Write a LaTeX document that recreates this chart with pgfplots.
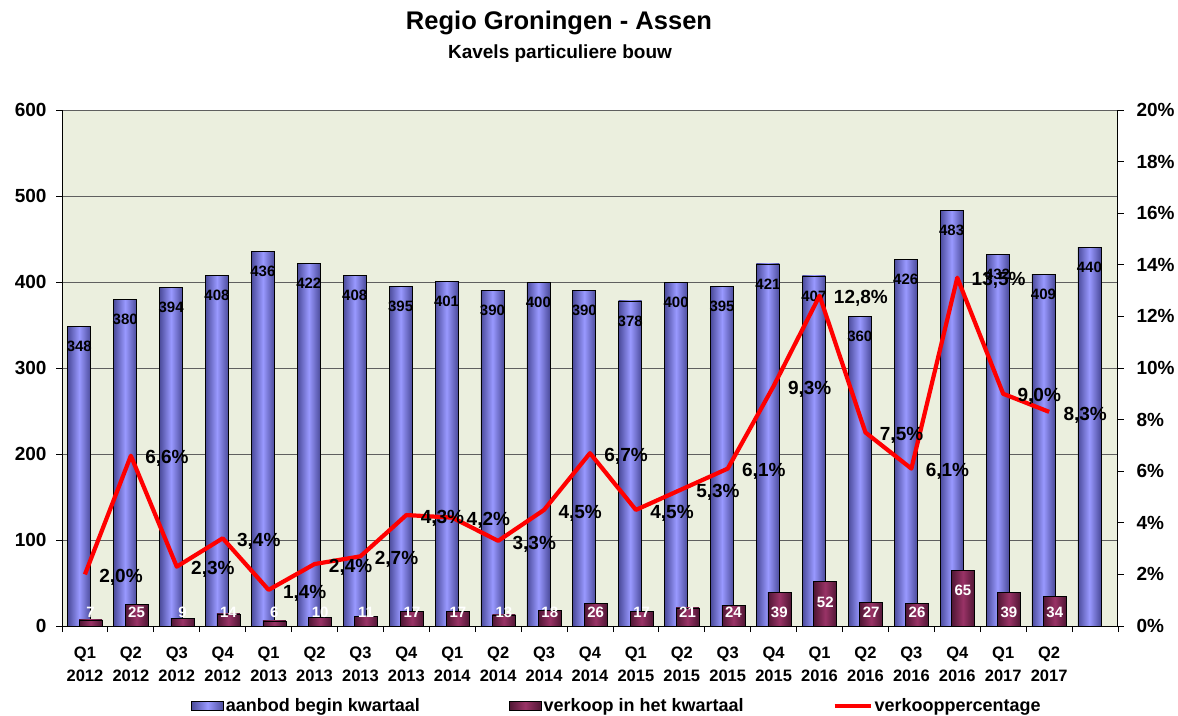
\documentclass[border=0pt]{standalone}
\usepackage{fontspec}
\setmainfont{Liberation Sans}
\usepackage{pgfplots}
\pgfplotsset{compat=1.18}
\usepackage{pgfplotstable}

\definecolor{bg}{RGB}{235,239,222}
\definecolor{aanbod}{RGB}{153,153,255}
\definecolor{aanboddark}{RGB}{75,75,155}
\definecolor{verkoop}{RGB}{153,51,102}
\definecolor{verkoopdark}{RGB}{80,22,52}
\definecolor{gridc}{RGB}{95,95,95}

\pgfplotsset{
  barlegend/.style={legend image code/.code={\draw[##1] (0pt,-4.5pt) rectangle (32pt,4.5pt);}},
  linelegend/.style={legend image code/.code={\draw[##1] (0pt,0pt) -- (36pt,0pt);}},
  aanbodbar/.style={ybar, bar width=23pt, bar shift=-5.7pt, draw=black, line width=0.6pt,
    left color=aanboddark, right color=aanboddark, middle color=aanbod},
  verkoopbar/.style={ybar, bar width=23pt, bar shift=5.7pt, draw=black, line width=0.6pt,
    left color=verkoopdark, right color=verkoopdark, middle color=verkoop},
}

\pgfplotstableread{
x aanbod
0 348
1 380
2 394
3 408
4 436
5 422
6 408
7 395
8 401
9 390
10 400
11 390
12 378
13 400
14 395
15 421
16 407
17 360
18 426
19 483
20 432
21 409
22 440
}\aanbodtab

\pgfplotstableread{
x verkoop laby
0 7 15.5
1 25 15.5
2 9 15.5
3 14 15.5
4 6 15.5
5 10 15.5
6 11 15.5
7 17 15.5
8 17 15.5
9 13 15.5
10 18 15.5
11 26 15.5
12 17 15.5
13 21 15.5
14 24 15.5
15 39 15.5
16 52 28
17 27 15.5
18 26 15.5
19 65 42
20 39 15.5
21 34 15.5
}\verkooptab

\pgfplotstableread{
x pct
0 2.0
1 6.6
2 2.3
3 3.4
4 1.4
5 2.4
6 2.7
7 4.3
8 4.2
9 3.3
10 4.5
11 6.7
12 4.5
13 5.3
14 6.1
15 9.3
16 12.8
17 7.5
18 6.1
19 13.5
20 9.0
21 8.3
}\pcttab

\begin{document}
\begin{tikzpicture}
\useasboundingbox (0pt,0pt) rectangle (1178pt,715pt);
\node[font=\fontsize{25.5}{28}\selectfont\bfseries] at (559pt,692pt) {Regio Groningen - Assen};
\node[font=\fontsize{19}{22}\selectfont\bfseries] at (560pt,661pt) {Kavels particuliere bouw};

\begin{axis}[
  at={(62pt,89pt)}, anchor=south west,
  scale only axis, width=1056pt, height=516pt,
  xmin=-0.5, xmax=22.5, ymin=0, ymax=600,
  axis background/.style={fill=bg},
  ymajorgrids, grid style={gridc, line width=0.9pt},
  ytick={0,100,...,600},
  xtick={-0.5,0.5,...,22.5}, xticklabels={},
  extra x ticks={0,...,21},
  extra x tick labels={Q1\\2012,Q2\\2012,Q3\\2012,Q4\\2012,Q1\\2013,Q2\\2013,Q3\\2013,Q4\\2013,Q1\\2014,Q2\\2014,Q3\\2014,Q4\\2014,Q1\\2015,Q2\\2015,Q3\\2015,Q4\\2015,Q1\\2016,Q2\\2016,Q3\\2016,Q4\\2016,Q1\\2017,Q2\\2017},
  extra x tick style={major tick length=0pt, xticklabel style={align=center, font=\fontsize{16.5}{23.5}\selectfont\bfseries, yshift=-17pt}},
  tick align=outside, major tick length=6pt,
  tick style={black, line width=0.9pt},
  axis y line*=left, axis x line*=bottom,
  axis line style={black, line width=1pt},
  /pgf/number format/assume math mode=true,
  yticklabel style={font=\fontsize{19}{22}\selectfont\bfseries, xshift=-6pt},
  legend columns=3,
  legend style={at={(0.5256,-0.155)}, anchor=center, draw=none, fill=none,
    font=\fontsize{18}{21}\selectfont\bfseries,
    /tikz/every even column/.append style={column sep=87pt},
    nodes={inner sep=2pt}},
]
\pgfplotsinvokeforeach{0,...,22}{
  \addplot[aanbodbar, forget plot]
    table[x=x, y=aanbod, restrict expr to domain={\thisrow{x}}{#1:#1}]{\aanbodtab};
}
\pgfplotsinvokeforeach{0,...,21}{
  \addplot[verkoopbar, forget plot]
    table[x=x, y=verkoop, restrict expr to domain={\thisrow{x}}{#1:#1}]{\verkooptab};
}
\addplot[draw=none, forget plot, nodes near coords, point meta=explicit,
  every node near coord/.append style={anchor=center, text=black,
     font=\fontsize{15}{17}\selectfont\bfseries}]
  table[x expr=\thisrow{x}-0.124, y expr=\thisrow{aanbod}-23.3, meta=aanbod]{\aanbodtab};
\addplot[draw=none, forget plot, nodes near coords, point meta=explicit,
  every node near coord/.append style={anchor=center, text=white,
     font=\fontsize{15}{17}\selectfont\bfseries}]
  table[x expr=\thisrow{x}+0.124, y=laby, meta=verkoop]{\verkooptab};
\addlegendimage{aanbodbar, barlegend}
\addlegendentry{aanbod begin kwartaal}
\addlegendimage{verkoopbar, barlegend}
\addlegendentry{verkoop in het kwartaal}
\addlegendimage{red, line width=4pt, linelegend}
\addlegendentry{verkooppercentage}
\end{axis}

\begin{axis}[
  at={(62pt,89pt)}, anchor=south west,
  scale only axis, width=1056pt, height=516pt,
  xmin=-0.5, xmax=22.5, ymin=0, ymax=20,
  axis x line=none, axis y line*=right,
  axis line style={black, line width=1pt},
  ytick={0,2,...,20},
  tick align=outside, major tick length=6pt,
  tick style={black, line width=0.9pt},
  /pgf/number format/assume math mode=true,
  yticklabel={\pgfmathprintnumber{\tick}\%},
  yticklabel style={font=\fontsize{19}{22}\selectfont\bfseries, xshift=9pt},
  clip=false,
]
\addplot[red, line width=4.2pt, line join=round,
  nodes near coords={\pgfmathprintnumber[fixed,fixed zerofill,precision=1,use comma]{\pgfplotspointmeta}\%},
  point meta=y,
  every node near coord/.append style={anchor=west, xshift=9pt, yshift=-3pt, text=black,
     font=\fontsize{19}{22}\selectfont\bfseries}]
  table[x=x, y=pct]{\pcttab};
\end{axis}
\end{tikzpicture}
\end{document}
